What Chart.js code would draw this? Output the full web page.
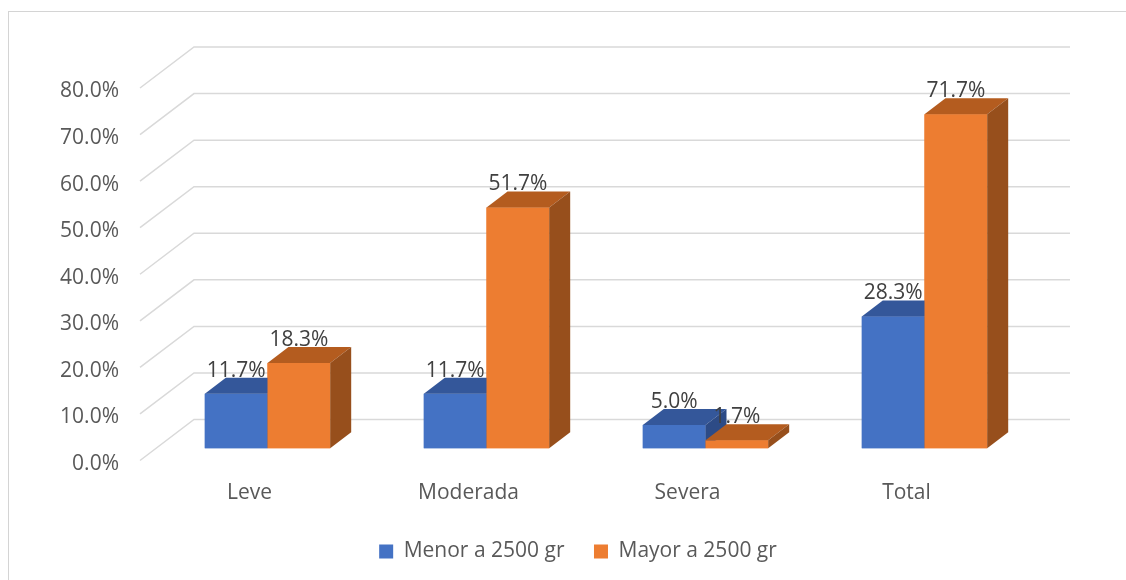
<!DOCTYPE html>
<html>
<head>
<meta charset="utf-8">
<script src="https://cdn.jsdelivr.net/npm/chart.js@4.4.1/dist/chart.umd.min.js"></script>
<style>
  html, body { margin: 0; padding: 0; background: #ffffff; width: 1126px; height: 580px; overflow: hidden; }
  #frame { position: absolute; left: 8px; top: 11px; width: 1300px; height: 800px; border: 1px solid #d4d4d4; box-sizing: border-box; }
  #wrap { position: absolute; left: 0; top: 0; width: 1126px; height: 580px; }
</style>
</head>
<body>
<div id="frame"></div>
<div id="wrap"><canvas id="c" width="1126" height="580"></canvas></div>
<script>
// ---- data ----
const categories = ['Leve', 'Moderada', 'Severa', 'Total'];
const menorValues = [11.7, 11.7, 5.0, 28.3];
const mayorValues = [18.3, 51.7, 1.7, 71.7];
const seriesNames = ['Menor a 2500 gr', 'Mayor a 2500 gr'];
const tickLabels = ['0.0%', '10.0%', '20.0%', '30.0%', '40.0%', '50.0%', '60.0%', '70.0%', '80.0%'];

// ---- style ----
const FONT = '"Open Sans", "DejaVu Sans", sans-serif';
const FLOOR_DX = 54, FLOOR_DY = 41;        // depth of the 3D walls
const BAR_DX = 21, BAR_DY = 16;            // depth of each bar
const SHIFT_X = 18, SHIFT_Y = -12.3;       // bars sit a bit behind the front plane
const faceColors = [
  { front: '#4472C4', top: '#34579A', side: '#2D4B86' },
  { front: '#ED7D31', top: '#B45C1F', side: '#974F1C' }
];

const threeD = {
  id: 'threeD',
  beforeDatasetsDraw(chart) {
    const { ctx, chartArea: a, scales: { y } } = chart;
    ctx.save();
    ctx.strokeStyle = '#d9d9d9';
    ctx.lineWidth = 1.5;
    y.ticks.forEach(t => {
      const py = y.getPixelForValue(t.value);
      ctx.beginPath();
      ctx.moveTo(a.left, py);
      ctx.lineTo(a.left + FLOOR_DX, py - FLOOR_DY);
      ctx.lineTo(a.right + FLOOR_DX, py - FLOOR_DY);
      ctx.stroke();
    });
    ctx.restore();
    ctx.save();
    ctx.translate(SHIFT_X, SHIFT_Y);
  },
  afterDatasetsDraw(chart) {
    const ctx = chart.ctx;
    const metas = chart.data.datasets.map((d, i) => chart.getDatasetMeta(i));
    categories.forEach((c, j) => {
      metas.forEach((meta, i) => {
        const bar = meta.data[j];
        if (!bar) return;
        const col = faceColors[i];
        const x0 = bar.x - bar.width / 2, x1 = bar.x + bar.width / 2;
        const yt = bar.y, yb = bar.base;
        ctx.fillStyle = col.front;
        ctx.fillRect(x0, yt, x1 - x0, yb - yt);
        ctx.fillStyle = col.top;
        ctx.beginPath();
        ctx.moveTo(x0, yt); ctx.lineTo(x1, yt);
        ctx.lineTo(x1 + BAR_DX, yt - BAR_DY); ctx.lineTo(x0 + BAR_DX, yt - BAR_DY);
        ctx.closePath(); ctx.fill();
        ctx.fillStyle = col.side;
        ctx.beginPath();
        ctx.moveTo(x1, yt); ctx.lineTo(x1 + BAR_DX, yt - BAR_DY);
        ctx.lineTo(x1 + BAR_DX, yb - BAR_DY); ctx.lineTo(x1, yb);
        ctx.closePath(); ctx.fill();
      });
    });
    ctx.font = '21px ' + FONT;
    ctx.fillStyle = '#404040';
    ctx.textAlign = 'center';
    ctx.textBaseline = 'alphabetic';
    chart.data.datasets.forEach((ds, i) => {
      chart.getDatasetMeta(i).data.forEach((bar, j) => {
        ctx.fillText(ds.data[j].toFixed(1) + '%', bar.x, bar.y - BAR_DY - 1);
      });
    });
    ctx.restore();
  }
};

new Chart(document.getElementById('c'), {
  type: 'bar',
  data: {
    labels: categories,
    datasets: [
      { label: seriesNames[0], data: menorValues, backgroundColor: faceColors[0].front, borderWidth: 0, clip: false },
      { label: seriesNames[1], data: mayorValues, backgroundColor: faceColors[1].front, borderWidth: 0, clip: false }
    ]
  },
  options: {
    responsive: false,
    devicePixelRatio: 1,
    animation: false,
    categoryPercentage: 0.5726,
    barPercentage: 1,
    layout: { padding: { left: 0, right: 110, top: 88, bottom: 8 } },
    scales: {
      x: {
        grid: { display: false },
        border: { display: false },
        ticks: { color: '#595959', font: { family: FONT, size: 21 }, padding: 12 },
        afterFit(s) { s.height = 51; }
      },
      y: {
        min: 0, max: 80,
        grid: { display: false, drawTicks: false },
        border: { display: false },
        ticks: {
          stepSize: 10,
          color: '#595959',
          font: { family: FONT, size: 21 },
          padding: 21,
          labelOffset: 3.5,
          callback: (v, i) => tickLabels[i]
        },
        afterFit(s) { s.width = 140; }
      }
    },
    plugins: {
      tooltip: { enabled: false },
      legend: {
        position: 'bottom',
        fullSize: false,
        labels: {
          boxWidth: 14, boxHeight: 14, padding: 29.5,
          color: '#595959',
          font: { family: FONT, size: 21 }
        }
      }
    }
  },
  plugins: [threeD]
});
</script>
</body>
</html>
